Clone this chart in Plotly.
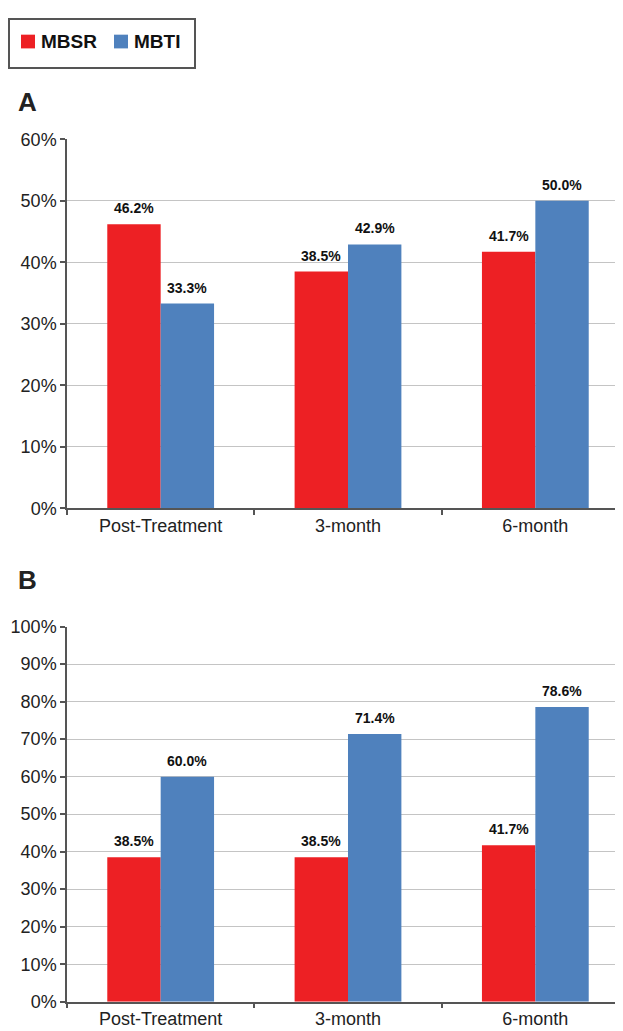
import plotly.graph_objects as go
from plotly.subplots import make_subplots

# Data
categories = ["Post-Treatment", "3-month", "6-month"]
series_names = ["MBSR", "MBTI"]
a_mbsr = [46.2, 38.5, 41.7]
a_mbti = [33.3, 42.9, 50.0]
b_mbsr = [38.5, 38.5, 41.7]
b_mbti = [60.0, 71.4, 78.6]

colors = ["#ED2024", "#4F81BD"]
font = "Liberation Sans, Arial, Helvetica, sans-serif"
W, H = 623, 1031

fig = make_subplots(rows=2, cols=1)

panels = [(a_mbsr, a_mbti), (b_mbsr, b_mbti)]
for row, (mbsr, mbti) in enumerate(panels, start=1):
    for i, vals in enumerate([mbsr, mbti]):
        fig.add_trace(go.Bar(
            x=categories,
            y=vals,
            name=series_names[i],
            marker=dict(color=colors[i], line=dict(width=0)),
            showlegend=False,
        ), row=row, col=1)
        # value labels above each bar, shifted onto the grouped bar
        for cat, v in zip(categories, vals):
            fig.add_annotation(
                x=cat, y=v, xref="x" if row == 1 else "x2",
                yref="y" if row == 1 else "y2",
                text=f"{v:.1f}%", showarrow=False,
                xanchor="center", yanchor="bottom",
                xshift=(i - 0.5) * 53.5, yshift=6,
                font=dict(family=font, size=14, color="#111111", weight="bold"),
            )

axis_common = dict(
    showline=True, linecolor="#555555", linewidth=1.5,
    ticks="outside", ticklen=5, tickcolor="#555555", tickwidth=1.5,
    tickfont=dict(family=font, size=18, color="#222222"),
)

fig.update_xaxes(domain=[0.0947, 0.9968], tickson="boundaries", **axis_common)
fig.update_yaxes(showgrid=True, gridcolor="#C4C4C4", gridwidth=1, zeroline=False,
                 ticksuffix="%", dtick=10, **axis_common)

fig.update_layout(
    yaxis=dict(domain=[0.515, 0.880], range=[0, 60]),
    yaxis2=dict(domain=[0.027, 0.398], range=[0, 100]),
    barmode="group",
    bargap=0.43,
    bargroupgap=0,
    width=W, height=H,
    margin=dict(l=0, r=0, t=0, b=0),
    plot_bgcolor="white",
    paper_bgcolor="white",
    showlegend=False,
)

# legend box drawn by hand to match the reference layout
def px(x):
    return x / W

def py(y):
    return 1 - y / H

fig.add_shape(type="rect", xref="paper", yref="paper",
              x0=px(1), x1=px(187), y0=py(51), y1=py(1),
              line=dict(color="#555555", width=2), fillcolor="white")
for i, (sx, tx) in enumerate([(13, 31), (106, 124)]):
    fig.add_shape(type="rect", xref="paper", yref="paper",
                  x0=px(sx), x1=px(sx + 14), y0=py(31), y1=py(17),
                  line=dict(width=0), fillcolor=colors[i])
    fig.add_annotation(x=px(tx), y=py(24), xref="paper", yref="paper",
                       text=series_names[i], showarrow=False,
                       xanchor="left", yanchor="middle",
                       font=dict(family=font, size=19, color="#111111", weight="bold"))

for label, ypos in [("A", py(86)), ("B", py(573))]:
    fig.add_annotation(
        x=px(8), y=ypos, xref="paper", yref="paper",
        text=label, showarrow=False, xanchor="left", yanchor="middle",
        font=dict(family=font, size=26, color="#222222", weight="bold"),
    )

fig.write_html("out.html")
